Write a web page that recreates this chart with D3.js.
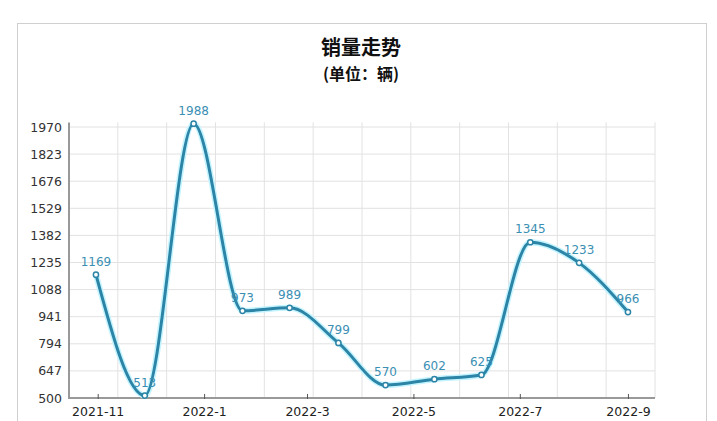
<!DOCTYPE html>
<html>
<head>
<meta charset="utf-8">
<script src="https://cdn.jsdelivr.net/npm/d3@7"></script>
<style>
  body { margin: 0; background: #fff; }
  svg { display: block; }
</style>
</head>
<body>
<div id="chart"></div>
<script>
// 销量走势 line chart

const pointDates = ["2021-10-31", "2021-11-28", "2021-12-26", "2022-01-23", "2022-02-19", "2022-03-19",
  "2022-04-15", "2022-05-13", "2022-06-09", "2022-07-07", "2022-08-04", "2022-09-01"];
const sales = [1169, 513, 1988, 973, 989, 799, 570, 602, 625, 1345, 1233, 966];
const yTicks = [500, 647, 794, 941, 1088, 1235, 1382, 1529, 1676, 1823, 1970];
const xDomain = ["2021-10-15T13:00", "2022-09-16T12:00"];
const titleText = "销量走势";
const subtitleText = "(单位：辆)";

(function () {
  const W = 717, H = 421;
  const parse = d3.timeParse("%Y-%m-%d");
  const parseT = d3.timeParse("%Y-%m-%dT%H:%M");

  const data = pointDates.map((d, i) => ({ date: parse(d), value: sales[i] }));

  const svg = d3.select("#chart").append("svg")
    .attr("width", W)
    .attr("height", H);

  // card frame
  svg.append("rect")
    .attr("x", 17.5).attr("y", 23.5)
    .attr("width", 689).attr("height", 420)
    .attr("fill", "#fff")
    .attr("stroke", "#cfcfcf");

  svg.append("text")
    .attr("x", 361).attr("y", 55)
    .attr("text-anchor", "middle")
    .style("font-family", "'Noto Sans CJK SC', sans-serif")
    .style("font-weight", "bold")
    .style("font-size", "20px")
    .attr("fill", "#111")
    .text(titleText);

  svg.append("text")
    .attr("x", 361).attr("y", 80)
    .attr("text-anchor", "middle")
    .style("font-family", "'Noto Sans CJK SC', sans-serif")
    .style("font-weight", "bold")
    .style("font-size", "16px")
    .attr("fill", "#111")
    .text(subtitleText);

  const plotL = 69, plotR = 655, plotT = 122.4, plotB = 398;

  const x = d3.scaleTime()
    .domain(xDomain.map(parseT))
    .range([plotL, plotR]);

  const y = d3.scaleLinear()
    .domain([500, 1995])
    .range([plotB, plotT]);

  // grid
  const xGrid = d3.scaleLinear().domain([0, 12]).range(x.range());
  svg.append("g")
    .selectAll("line")
    .data(d3.range(1, 13))
    .join("line")
    .attr("x1", (d) => xGrid(d)).attr("x2", (d) => xGrid(d))
    .attr("y1", plotT).attr("y2", plotB)
    .attr("stroke", "#e2e2e2");

  svg.append("g")
    .selectAll("line")
    .data(yTicks.slice(1))
    .join("line")
    .attr("x1", plotL).attr("x2", plotR)
    .attr("y1", (d) => y(d)).attr("y2", (d) => y(d))
    .attr("stroke", "#e2e2e2");

  // y axis
  const yAxis = svg.append("g")
    .attr("transform", `translate(${plotL},0)`)
    .call(d3.axisLeft(y).tickValues(yTicks).tickFormat(d3.format("d")).tickSize(0).tickPadding(7));
  yAxis.select(".domain").attr("stroke", "#999").attr("stroke-width", 2)
    .attr("d", `M0,${plotT}V${plotB + 1}`);
  yAxis.selectAll("text")
    .style("font-family", "'DejaVu Sans', Verdana, sans-serif")
    .style("font-size", "12.5px")
    .attr("fill", "#333");

  // x axis
  const xAxis = svg.append("g")
    .attr("transform", `translate(0,${plotB})`)
    .call(d3.axisBottom(x)
      .ticks(d3.timeMonth.every(2))
      .tickFormat(d3.timeFormat("%Y-%-m"))
      .tickSize(-4)
      .tickPadding(9));
  xAxis.select(".domain").attr("stroke", "#999").attr("stroke-width", 2)
    .attr("d", `M${plotL - 1},0H${plotR}`);
  xAxis.selectAll(".tick line").attr("stroke", "#555").attr("y2", -4).attr("y1", 1);
  xAxis.selectAll("text")
    .style("font-family", "'DejaVu Sans', Verdana, sans-serif")
    .style("font-size", "12.5px")
    .attr("fill", "#222");

  // line
  const line = d3.line()
    .x((d) => x(d.date))
    .y((d) => y(d.value))
    .curve(d3.curveMonotoneX);

  svg.append("path")
    .datum(data)
    .attr("fill", "none")
    .attr("stroke", "#c4f4ff")
    .attr("stroke-width", 6)
    .attr("stroke-linejoin", "round")
    .attr("d", line);

  svg.append("path")
    .datum(data)
    .attr("fill", "none")
    .attr("stroke", "#2c84a6")
    .attr("stroke-width", 3)
    .attr("stroke-linejoin", "round")
    .attr("d", line);

  svg.selectAll(".pt")
    .data(data)
    .join("circle")
    .attr("class", "pt")
    .attr("cx", (d) => x(d.date))
    .attr("cy", (d) => y(d.value))
    .attr("r", 2.6)
    .attr("fill", "#fff")
    .attr("stroke", "#2c84a6")
    .attr("stroke-width", 1.5);

  svg.selectAll(".lbl")
    .data(data)
    .join("text")
    .attr("class", "lbl")
    .attr("x", (d) => x(d.date))
    .attr("y", (d) => y(d.value) - 9)
    .attr("text-anchor", "middle")
    .style("font-family", "'DejaVu Sans', Verdana, sans-serif")
    .style("font-size", "12px")
    .attr("fill", "#3b8fb3")
    .text((d) => d.value);
})();
</script>
</body>
</html>
